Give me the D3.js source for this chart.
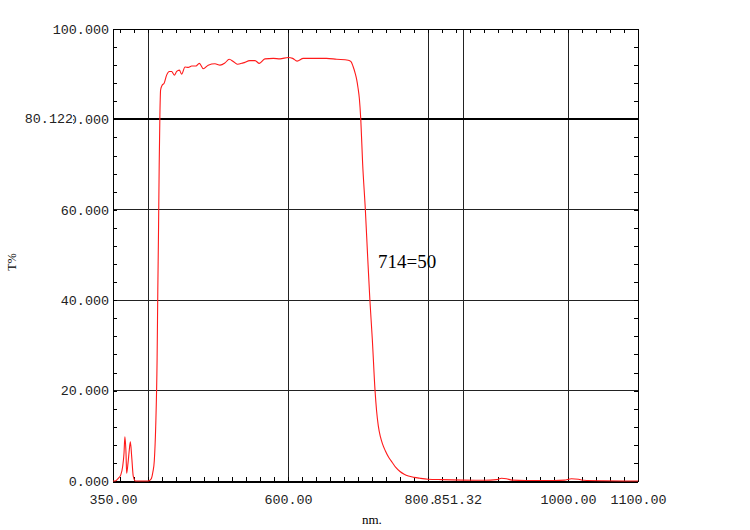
<!DOCTYPE html>
<html>
<head>
<meta charset="utf-8">
<script src="https://cdn.jsdelivr.net/npm/d3@7"></script>
<style>
  body { margin: 0; background: #fff; }
  svg { display: block; }
</style>
</head>
<body>
<div id="chart"></div>
<script>
// Spectrum readings (nm, T%)
const wavelength = [350, 353, 357.6, 361, 363.8, 365.7, 367, 368.6, 369.5, 371.4, 373.3, 374.8, 376.7, 379, 382,
  400, 403, 405, 407, 409, 411, 413, 414, 415, 416, 417, 418, 420, 423, 426.6, 430.5, 433.8, 437.6, 441, 444.8,
  448, 452.9, 457.6, 462.4, 468.6, 473.3, 479, 486, 495.7, 502.9, 510, 516, 521.9, 527.6, 536, 545.7, 552.9,
  559, 567, 579, 588.6, 600.4, 606.7, 613, 621.9, 636, 655, 669.5, 686, 690, 693, 696, 698, 700, 702, 704,
  706.6, 710.5, 713.8, 717, 720.5, 724.3, 726.5, 729, 732, 735, 739, 744, 749, 754, 760, 766, 772, 780, 788.6, 800,
  820, 850, 880, 898, 905, 912, 920, 940, 980, 995, 1005, 1015, 1022, 1050, 1100];
const transmission = [0, 0, 0.6, 1.3, 3.2, 6.1, 9.8, 6.1, 1.7, 3.9, 6.9, 8.7, 5.4, 1.0, 0,
  0, 0.2, 0.6, 2.0, 4.5, 12, 27, 42, 55, 70, 81, 86.5, 87.5, 88.0, 89.8, 90.6, 90.6, 89.8, 90.6, 90.9,
  90.0, 91.6, 91.5, 91.8, 91.8, 92.4, 91.2, 92.0, 92.3, 92.0, 92.5, 93.3, 92.8, 92.2, 92.5, 93.0, 93.0,
  92.4, 93.4, 93.5, 93.4, 93.7, 93.5, 92.9, 93.5, 93.5, 93.5, 93.3, 93.1, 92.8, 91.7, 90.2, 88.9, 87.0, 84.5, 79.9,
  70.3, 60.0, 49.6, 40.0, 31.2, 20.1, 15.6, 12.2, 9.8, 8.2, 6.7, 5.2, 4.1, 3.0, 2.1, 1.5, 1.1, 0.8, 0.6, 0.4,
  0.3, 0.2, 0.15, 0.3, 0.6, 0.5, 0.2, 0.1, 0.1, 0.2, 0.5, 0.4, 0.15, 0.05, 0];

const xLabels = [350, 600, 800, 1000, 1100];
const xGrid = [400, 600, 800, 1000];
const yLabels = [0, 20, 40, 60, 80, 100];
const cursorX = 851.32;
const cursorY = 80.122;
const note = "714=50";

const W = 750, H = 530;
const plot = {left: 113, right: 638, top: 29, bottom: 481};
const monoFont = "'Liberation Mono', 'DejaVu Sans Mono', monospace";

const x = d3.scaleLinear().domain([350, 1100]).range([plot.left, plot.right]);
const y = d3.scaleLinear().domain([0, 100]).range([plot.bottom, plot.top]);

const svg = d3.select("#chart").append("svg")
  .attr("width", W)
  .attr("height", H);

// grid
svg.append("g").selectAll("line")
  .data(xGrid)
  .enter().append("line")
    .attr("x1", d => x(d)).attr("x2", d => x(d))
    .attr("y1", plot.top).attr("y2", plot.bottom)
    .attr("stroke", "#222").attr("stroke-width", 1)
    .attr("shape-rendering", "crispEdges");

svg.append("g").selectAll("line")
  .data(yLabels.filter(d => d > 0 && d < 100 && d !== 80))
  .enter().append("line")
    .attr("x1", plot.left).attr("x2", plot.right)
    .attr("y1", d => y(d)).attr("y2", d => y(d))
    .attr("stroke", "#222").attr("stroke-width", 1)
    .attr("shape-rendering", "crispEdges");

// cursor lines
svg.append("line")
  .attr("x1", x(cursorX)).attr("x2", x(cursorX))
  .attr("y1", plot.top).attr("y2", plot.bottom)
  .attr("stroke", "#222").attr("stroke-width", 1)
  .attr("shape-rendering", "crispEdges");

svg.append("line")
  .attr("x1", plot.left).attr("x2", plot.right)
  .attr("y1", y(cursorY)).attr("y2", y(cursorY))
  .attr("stroke", "#000").attr("stroke-width", 2)
  .attr("shape-rendering", "crispEdges");

// minor ticks, pointing inward
const xMinor = d3.range(360, 1100, 20);
const yMinor = d3.range(4, 100, 4);

function minorAxis(axis, transform) {
  const g = svg.append("g")
    .attr("transform", transform)
    .call(axis);
  g.select(".domain").remove();
  g.selectAll("line").attr("stroke", "#000").attr("shape-rendering", "crispEdges");
}
minorAxis(d3.axisBottom(x).tickValues(xMinor).tickSize(-4).tickFormat(""), `translate(0,${plot.bottom})`);
minorAxis(d3.axisTop(x).tickValues(xMinor).tickSize(-4).tickFormat(""), `translate(0,${plot.top})`);
minorAxis(d3.axisLeft(y).tickValues(yMinor).tickSize(-4).tickFormat(""), `translate(${plot.left},0)`);
minorAxis(d3.axisRight(y).tickValues(yMinor).tickSize(-4).tickFormat(""), `translate(${plot.right},0)`);

// frame
svg.append("rect")
  .attr("x", plot.left).attr("y", plot.top)
  .attr("width", plot.right - plot.left).attr("height", plot.bottom - plot.top)
  .attr("fill", "none").attr("stroke", "#000").attr("stroke-width", 1)
  .attr("shape-rendering", "crispEdges");
svg.append("line")
  .attr("x1", plot.left).attr("x2", plot.right)
  .attr("y1", plot.bottom + 1).attr("y2", plot.bottom + 1)
  .attr("stroke", "#000").attr("stroke-width", 1)
  .attr("shape-rendering", "crispEdges");

// curve
const data = wavelength.map((w, i) => ({w: w, t: transmission[i]}));
const line = d3.line()
  .x(d => x(d.w))
  .y(d => y(d.t))
  .curve(d3.curveMonotoneX);

svg.append("path")
  .datum(data)
  .attr("d", line)
  .attr("fill", "none")
  .attr("stroke", "#ff1a1a")
  .attr("stroke-width", 1.1);

// axis labels
const xAxis = svg.append("g")
  .attr("transform", `translate(0,${plot.bottom})`)
  .call(d3.axisBottom(x).tickValues(xLabels).tickSize(0).tickPadding(13).tickFormat(d3.format(".2f")));
xAxis.select(".domain").remove();
xAxis.selectAll("text")
  .attr("fill", "#222")
  .style("font-family", monoFont)
  .style("font-size", "13.4px");

const yAxis = svg.append("g")
  .attr("transform", `translate(${plot.left},0)`)
  .call(d3.axisLeft(y).tickValues(yLabels).tickSize(0).tickPadding(4).tickFormat(d3.format(".3f")));
yAxis.select(".domain").remove();
yAxis.selectAll("text")
  .attr("fill", "#222")
  .style("font-family", monoFont)
  .style("font-size", "13.4px");

// cursor value labels, drawn over the regular labels
function cursorLabel(text, cx, cy, anchor) {
  const g = svg.append("g");
  const t = g.append("text")
    .attr("x", cx).attr("y", cy)
    .attr("text-anchor", anchor)
    .attr("dy", "0.32em")
    .attr("fill", "#222")
    .style("font-family", monoFont)
    .style("font-size", "13.4px")
    .text(text);
  const b = t.node().getBBox();
  g.insert("rect", "text")
    .attr("x", b.x).attr("y", b.y)
    .attr("width", b.width).attr("height", b.height)
    .attr("fill", "#fff");
}
cursorLabel(d3.format(".2f")(cursorX), x(cursorX) - 6, plot.bottom + 19, "middle");
cursorLabel(d3.format(".3f")(cursorY), plot.left - 40, y(cursorY), "end");

// titles
svg.append("text")
  .attr("transform", `translate(16,${(plot.top + plot.bottom) / 2 + 7}) rotate(-90)`)
  .attr("text-anchor", "middle")
  .style("font-family", "'Liberation Serif', serif")
  .style("font-size", "12px")
  .text("T%");

svg.append("text")
  .attr("x", 362).attr("y", 524)
  .style("font-family", "'Liberation Serif', serif")
  .style("font-size", "13px")
  .text("nm.");

svg.append("text")
  .attr("x", 378).attr("y", 268)
  .style("font-family", "'Liberation Serif', serif")
  .style("font-size", "19px")
  .text(note);
</script>
</body>
</html>
